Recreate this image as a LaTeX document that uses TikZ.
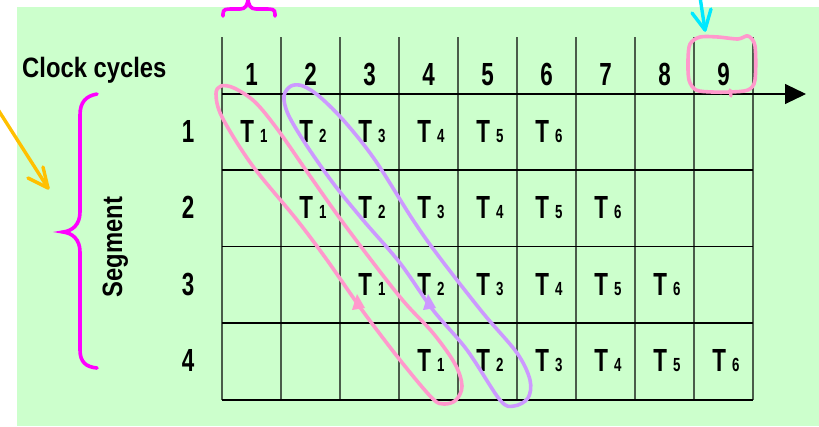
\documentclass[tikz,border=0pt]{standalone}
\usepackage{fontspec}
\setmainfont{Liberation Sans}[FakeStretch=0.85]
\newfontfamily\narrowfont{Liberation Sans}[FakeStretch=0.7]
\usetikzlibrary{arrows.meta}
\definecolor{bg}{HTML}{CCFFCC}
\definecolor{gridc}{HTML}{4A5C4A}
\definecolor{mag}{HTML}{FF00FF}
\definecolor{pinkc}{HTML}{FF99CC}
\definecolor{purc}{HTML}{CC99FF}
\definecolor{orc}{HTML}{FFC000}
\definecolor{cyc}{HTML}{00E8FF}
\newcommand{\subsz}{\fontsize{19}{19}\selectfont}
\begin{document}
\begin{tikzpicture}[x=1pt,y=-1pt,
  lbl/.style={font=\bfseries\fontsize{28}{28}\selectfont, inner sep=0pt, anchor=base},
  num/.style={font=\narrowfont\bfseries\fontsize{32}{32}\selectfont, inner sep=0pt, anchor=base},
  tcell/.style={font=\narrowfont\bfseries\fontsize{32}{32}\selectfont, inner sep=0pt, anchor=base},
  vline/.style={draw=gridc, line width=1.6pt},
  hline/.style={draw=black, line width=1.1pt},
  bandloop/.style={line width=3.6pt, line join=round},
  brace/.style={draw=mag, line width=3.6pt, line cap=round},
  hand/.style={line width=3.4pt, line cap=round, line join=round}
]
\useasboundingbox (0,0) rectangle (819,426);
\fill[bg] (17,7) rectangle (819,426);

% grid
\foreach \i in {0,...,9} {
  \draw[vline] (222+59*\i,37) -- (222+59*\i,400);
}
\foreach \yy in {170,246.5,323,400} {
  \draw[hline] (222,\yy) -- (753,\yy);
}
\coordinate (ax0) at (222,94);
\coordinate (ax1) at (806,94);
\draw[hline, -{Triangle[length=21pt,width=20pt]}] (ax0) -- (ax1);

% header numbers
\foreach \c in {1,...,9} {
  \node[num] (h\c) at (251.5+59*\c-59,85) {\c};
}
% row labels
\foreach \r in {1,...,4} {
  \node[num] (r\r) at (188,142+76.5*\r-76.5) {\r};
}
% cells
\foreach \r in {1,...,4} {
  \foreach \k in {1,...,6} {
    \pgfmathsetmacro\xx{254+59*(\r+\k-2)}
    \pgfmathsetmacro\yy{142+76.5*(\r-1)}
    \node[tcell] (t\r\k) at (\xx,\yy) {T\hspace{6pt}{\subsz\k}};
  }
}

\node[lbl, anchor=base west] (clk) at (22,77) {Clock cycles};
\node[lbl, rotate=90, anchor=base] (seg) at (122,247) {Segment};

% braces
\draw[brace] (97,94) .. controls (86,96) and (80,102) .. (80,115) -- (80,212)
  .. controls (80,225) and (72,231) .. (63,232)
  .. controls (72,233) and (80,239) .. (80,252) -- (80,350)
  .. controls (80,362) and (86,367) .. (97,368);
\draw[brace] (223,16) -- (223,14) .. controls (223,9) and (226,9) .. (232,9) -- (240,9)
  .. controls (245,9) and (248,6) .. (248,-3);
\draw[brace] (275,16) -- (275,14) .. controls (275,9) and (272,9) .. (266,9) -- (256,9)
  .. controls (251,9) and (248,6) .. (248,-3);

% loops
\draw[pinkc, bandloop] plot[smooth cycle, tension=0.55] coordinates {
  (216,94) (221,86) (234,88) (255,102) (278,130) (310,176) (347,228)
  (400,297) (433,333) (455,364) (462,386) (456,400) (444,404) (432,398)
  (400,360) (362,310) (327,260) (297,220) (252,165) (222,117)};
\fill[pinkc] (357,294) -- (352,310) -- (365,308) -- cycle;

\draw[purc, bandloop] plot[smooth cycle, tension=0.55] coordinates {
  (284,96) (291,86) (303,86) (320,97) (345,122) (375,160) (413,220)
  (440,258) (483,313) (517,353) (530,380) (528,398) (514,406) (500,400)
  (467,350) (433,310) (400,263) (363,220) (333,183) (305,143) (288,114)};
\fill[purc] (428,294) -- (423,310) -- (436,308) -- cycle;

\draw[pinkc, bandloop] plot[smooth cycle, tension=0.5] coordinates {
  (690,44) (700,37) (718,37) (738,39) (748,36) (755,46) (755,80)
  (748,90) (730,92) (712,92) (696,90) (689,80) (688,60)};
\draw[pinkc, hand] (730,90) -- (731,96);

% hand arrows
\coordinate (cy0) at (700,-3);
\coordinate (cy1) at (705,30);
\draw[cyc, hand] (cy0) -- (cy1);
\draw[cyc, hand] (692,13) -- (cy1) -- (711,9);

\coordinate (or0) at (-3,108);
\coordinate (or1) at (48,188);
\draw[orc, hand] (or0) -- (or1);
\draw[orc, hand] (28,178) -- (or1) -- (43,167);
\end{tikzpicture}
\end{document}
